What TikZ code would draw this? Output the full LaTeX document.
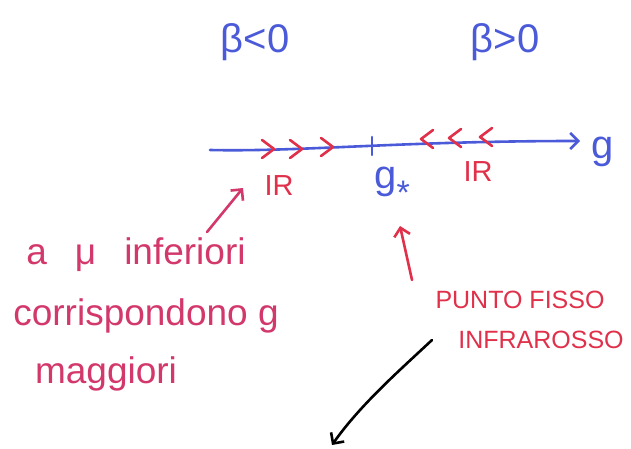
\documentclass[tikz,border=0pt]{standalone}
\usepackage{fontspec}
\setmainfont{Liberation Sans}
\usetikzlibrary{arrows.meta}
\definecolor{penblue}{HTML}{4A5AD8}
\definecolor{penred}{HTML}{E0304A}
\definecolor{penpink}{HTML}{D3386A}
\begin{document}
\begin{tikzpicture}[x=1pt,y=-1pt,line cap=round,line join=round,
  pen/.style={line width=2.6pt},
  barb/.style={-{Straight Barb[length=8pt,width=16pt,line width=2.6pt]}},
  bluetext/.style={text=penblue,font=\fontsize{40}{44}\selectfont},
  redtext/.style={text=penred,font=\fontsize{25}{30}\selectfont},
  pinktext/.style={text=penpink,font=\fontsize{37}{42}\selectfont}]
  \useasboundingbox (0,0) rectangle (631,449);
  % signs of beta
  \node[bluetext] (bneg) at (255,42) {β<0};
  \node[bluetext] (bpos) at (505,42) {β>0};
  % the g axis
  \coordinate (axstart) at (210,150);
  \coordinate (axend) at (580,141);
  \draw[pen,penblue,barb] (axstart) .. controls (300,152) and (400,141) .. (axend);
  \node[bluetext] (glab) at (603,152) {g};
  \draw[pen,penblue] (372,137) -- (372,155);
  \node[bluetext] (gstar) at (392,186) {g\raisebox{-0.4em}{\fontsize{34}{34}\selectfont*}};
  % flow towards the fixed point
  \foreach \x/\y in {268/149, 296/149, 327/147}
    \draw[pen,penred] (\x-6,\y-9) -- (\x+6,\y) -- (\x-6,\y+9);
  \foreach \x/\y in {427/139, 455/138, 486/137}
    \draw[pen,penred] (\x+6,\y-9) -- (\x-6,\y) -- (\x+6,\y+9);
  \node[redtext,font=\fontsize{29}{32}\selectfont] (irleft) at (279,186) {IR};
  \node[redtext,font=\fontsize{29}{32}\selectfont] (irright) at (478,172) {IR};
  % note on the left
  \node[pinktext] (lineone) at (136,255) {a\hspace{28pt}μ\hspace{28pt}inferiori};
  \node[pinktext] (linetwo) at (146,316) {corrispondono g};
  \node[pinktext] (linethree) at (106,374) {maggiori};
  \coordinate (mutail) at (207,232);
  \coordinate (mutip) at (243,188);
  \draw[pen,penpink,barb] (mutail) -- (mutip);
  % fixed point note
  \node[redtext] (pfone) at (520,300) {PUNTO FISSO};
  \node[redtext] (pftwo) at (541,340) {INFRAROSSO};
  \coordinate (pftail) at (412,280);
  \coordinate (pftip) at (400,226);
  \draw[pen,penred,barb] (pftail) -- (pftip);
  \coordinate (downtail) at (432,340);
  \coordinate (downtip) at (332,445);
  \draw[pen,black,barb] (downtail) .. controls (400,370) and (360,405) .. (downtip);
\end{tikzpicture}
\end{document}
